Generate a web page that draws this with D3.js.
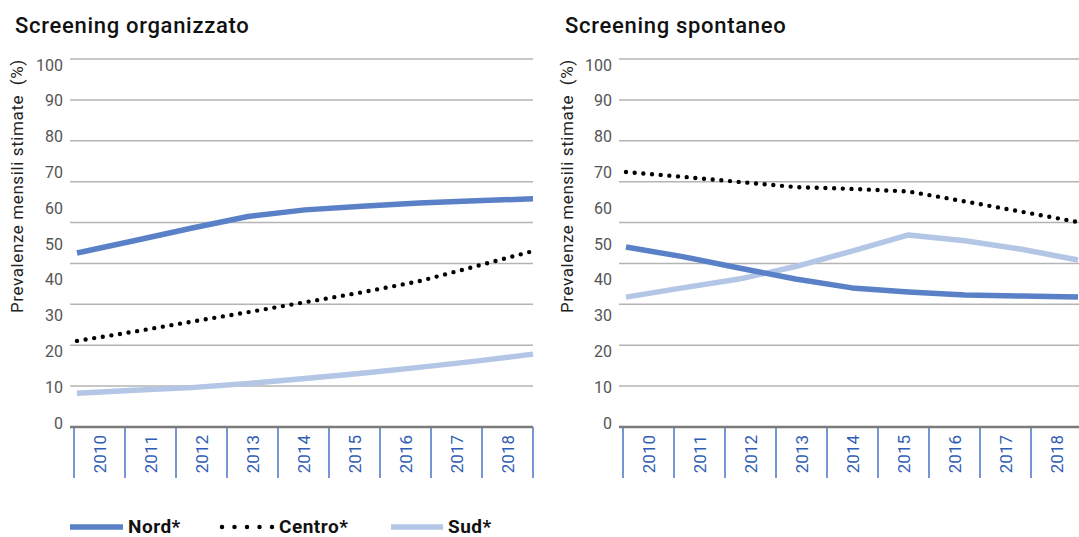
<!DOCTYPE html>
<html><head><meta charset="utf-8">
<script src="https://cdn.jsdelivr.net/npm/d3@7"></script>
<style>
html,body{margin:0;padding:0;background:#fff;}
svg{display:block;}
</style></head>
<body>
<svg id="chart" width="1079" height="537"></svg>
<script>
// ---- data ----
const years = ["2010","2011","2012","2013","2014","2015","2016","2017","2018"];
const yTickLabels = [0,10,20,30,40,50,60,70,80,90,100];
const panelTitles = ["Screening organizzato","Screening spontaneo"];
const yAxisTitle = "Prevalenze mensili stimate  (%)";
const seriesNames = ["Nord*","Centro*","Sud*"];
// Screening organizzato
const orgNord   = [47.3, 50.6, 54.0, 57.2, 59.0, 60.0, 60.9, 61.5, 62.0];
const orgCentro = [23.4, 25.9, 28.6, 31.2, 33.9, 36.6, 39.6, 43.7, 47.8];
const orgSud    = [9.2, 10.0, 10.7, 11.8, 13.2, 14.6, 16.2, 17.9, 19.8];
// Screening spontaneo
const spoNord   = [48.9, 46.3, 43.2, 40.2, 37.8, 36.7, 35.9, 35.6, 35.3];
const spoCentro = [69.3, 68.0, 66.6, 65.2, 64.7, 64.0, 61.3, 58.5, 55.7];
const spoSud    = [35.3, 37.8, 40.2, 43.6, 47.8, 52.2, 50.6, 48.3, 45.4];

const colors = {"Nord*":"#5a81c7","Centro*":"#000000","Sud*":"#b3c6e6"};

const svg = d3.select("#chart");
const FONT = "Roboto, 'Liberation Sans', sans-serif";
const NARROW = "'Liberation Sans Narrow', Roboto, sans-serif";

const y = d3.scaleLinear().domain([0,100]).range([427,59]);
const yLab = d3.scaleLinear().domain([0,100]).range([423,65]);

const panels = [
  {title: panelTitles[0], titleX: 15, gridX0: 70, bandX0: 74, bandX1: 533, ptX0: 77, ptX1: 533, labR: 63, yTitleX: 23,
   data: [orgNord, orgCentro, orgSud]},
  {title: panelTitles[1], titleX: 565, gridX0: 619, bandX0: 623, bandX1: 1082, ptX0: 626, ptX1: 1078, labR: 612, yTitleX: 573,
   data: [spoNord, spoCentro, spoSud]}
];

panels.forEach(p => {
  const g = svg.append("g");
  // title
  g.append("text").attr("x", p.titleX).attr("y", 33)
    .attr("font-family", FONT).attr("font-weight", 500).attr("font-size", 22)
    .attr("letter-spacing", 0.7)
    .attr("fill", "#111").text(p.title);
  // y title
  g.append("text").attr("transform", `translate(${p.yTitleX},313) rotate(-90)`)
    .attr("font-family", FONT).attr("font-size", 17).attr("fill", "#222")
    .attr("letter-spacing", 0.6)
    .style("white-space","pre")
    .text(yAxisTitle);
  // gridlines (9 equal intervals)
  const gridVals = d3.range(1,10).map(i => i*100/9);
  g.selectAll("line.grid").data(gridVals).join("line").attr("class","grid")
    .attr("x1", p.gridX0).attr("x2", Math.min(p.bandX1, 1079))
    .attr("y1", d => y(d)).attr("y2", d => y(d))
    .attr("stroke", "#b4b4b4").attr("stroke-width", 1.5);
  // tick labels
  g.selectAll("text.ytick").data(yTickLabels).join("text").attr("class","ytick")
    .attr("x", p.labR).attr("y", d => yLab(d)).attr("dy","0.35em")
    .attr("text-anchor","end").attr("font-family", NARROW).attr("font-size", 16)
    .attr("fill", "#555").text(d => d);
  // x band scale
  const xb = d3.scaleBand().domain(years).range([p.bandX0, p.bandX1]).padding(0);
  const bounds = years.map(d => xb(d)).concat([xb(years[years.length-1]) + xb.bandwidth()]);
  g.selectAll("line.sep").data(bounds).join("line").attr("class","sep")
    .attr("x1", d => d).attr("x2", d => d).attr("y1", 427).attr("y2", 478)
    .attr("stroke", "#4a72c0").attr("stroke-width", 1.5);
  // axis line
  g.append("line").attr("x1", p.gridX0).attr("x2", Math.min(p.bandX1, 1079))
    .attr("y1", y(0)).attr("y2", y(0)).attr("stroke", "#7a7a7a").attr("stroke-width", 2.5);
  // year labels
  g.selectAll("text.year").data(years).join("text").attr("class","year")
    .attr("transform", d => `translate(${xb(d) + xb.bandwidth()/2 + 6},435) rotate(-90)`)
    .attr("text-anchor","end").attr("font-family", FONT).attr("font-size", 17)
    .attr("fill", "#2f5cb4").text(d => d);
  // lines
  const xp = d3.scalePoint().domain(years).range([p.ptX0, p.ptX1]);
  const line = d3.line().x((d,i) => xp(years[i])).y(d => y(d));
  // draw order: Sud, Nord, Centro
  [2,0,1].forEach(si => {
    const name = seriesNames[si];
    const path = g.append("path").datum(p.data[si]).attr("d", line)
      .attr("fill","none").attr("stroke", colors[name]);
    if (name === "Centro*") {
      path.attr("stroke-width", 4.4).attr("stroke-linecap","round")
        .attr("stroke-dasharray","0 8.7");
    } else {
      path.attr("stroke-width", 5.5).attr("stroke-linejoin","round");
    }
  });
});

// legend
const legend = [
  {name: seriesNames[0], x1: 70, x2: 123, tx: 128},
  {name: seriesNames[1], x1: 222, x2: 273, tx: 279},
  {name: seriesNames[2], x1: 391, x2: 443, tx: 448}
];
const lg = svg.append("g");
legend.forEach(l => {
  const ln = lg.append("line").attr("x1", l.x1).attr("x2", l.x2).attr("y1", 527).attr("y2", 527)
    .attr("stroke", colors[l.name]);
  if (l.name === "Centro*") {
    ln.attr("stroke-width", 4.5).attr("stroke-linecap","round").attr("stroke-dasharray","0 12.5");
  } else {
    ln.attr("stroke-width", 5.5);
  }
  lg.append("text").attr("x", l.tx).attr("y", 533)
    .attr("font-family", FONT).attr("font-weight", 700).attr("font-size", 19)
    .attr("letter-spacing", 0.5)
    .attr("fill", "#111").text(l.name);
});
</script>
</body></html>
